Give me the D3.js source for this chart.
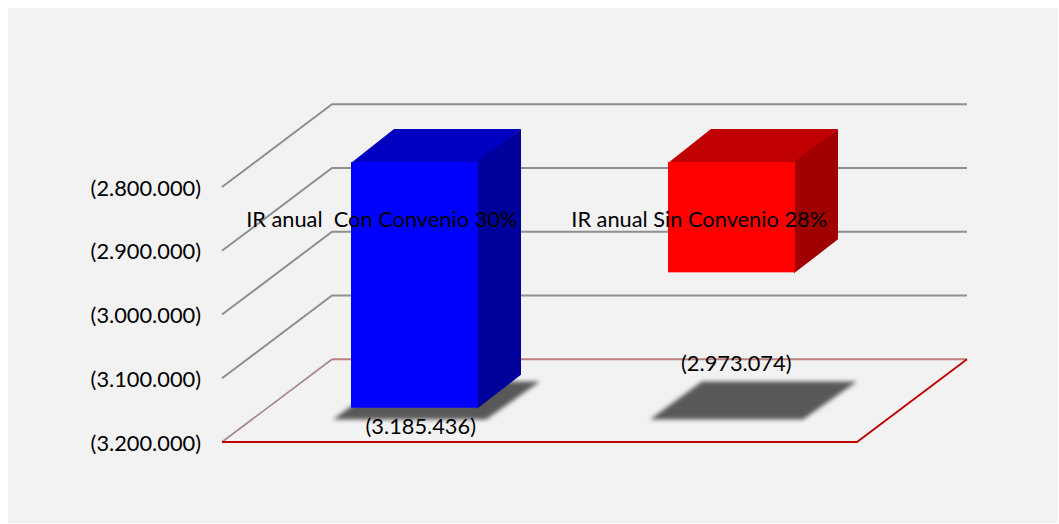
<!DOCTYPE html>
<html><head><meta charset="utf-8">
<script src="https://cdn.jsdelivr.net/npm/d3@7"></script>
<style>
html,body{margin:0;padding:0;background:#fff;overflow:hidden}
text{font-family:Lato,"Open Sans",sans-serif;fill:#000}
</style></head><body>
<svg id="c" width="1059" height="524"></svg>
<script>
const categories = ["IR anual  Con Convenio 30%", "IR anual Sin Convenio 28%"];
const values = [3185436, 2973074];
const valueLabels = ["(3.185.436)", "(2.973.074)"];
const tickValues = [2800000, 2900000, 3000000, 3100000, 3200000];
const tickLabels = ["(2.800.000)", "(2.900.000)", "(3.000.000)", "(3.100.000)", "(3.200.000)"];
const faceColors = [
  {front:"#0000ff", top:"#0000c0", side:"#00009b"},
  {front:"#ff0000", top:"#c00000", side:"#a00000"}
];

const W = 1059, H = 524;
const FS = 21.8;
const y = d3.scaleLinear().domain([2800000, 3200000]).range([187, 442]);
const x = d3.scaleBand().domain(categories).range([222, 857]).paddingInner(0.6).paddingOuter(0.3);
const depth = {dx:110, dy:-82.7};
const barNear = {dx:34, dy:-25};
const barDepth = {dx:43, dy:-33};

const svg = d3.select("#c");
const p = pts => "M" + pts.map(q => q.join(",")).join("L");

svg.append("rect").attr("x",8).attr("y",8).attr("width",W-9).attr("height",H-9).attr("fill","#f2f2f2");

svg.append("defs").append("filter").attr("id","blur").attr("x","-20%").attr("y","-30%").attr("width","140%").attr("height","160%")
  .append("feGaussianBlur").attr("stdDeviation",2);

const x0 = x.range()[0], x1 = x.range()[1];
const g = svg.append("g").attr("fill","none");
tickValues.slice(0,-1).forEach(v=>{
  g.append("path").attr("d",p([[x0,y(v)],[x0+depth.dx,y(v)+depth.dy],[x1+depth.dx,y(v)+depth.dy]]))
   .attr("stroke","#8f8f8f").attr("stroke-width",2);
});
const fy = y(3200000);
g.append("path").attr("d",p([[x0+depth.dx,fy+depth.dy],[x1+depth.dx,fy+depth.dy]])).attr("stroke","#bb7f7f").attr("stroke-width",2);
g.append("path").attr("d",p([[x0,fy],[x0+depth.dx,fy+depth.dy]])).attr("stroke","#a58a8a").attr("stroke-width",1.7);
g.append("path").attr("d",p([[x0,fy],[x1,fy],[x1+depth.dx,fy+depth.dy]])).attr("stroke","#c00000").attr("stroke-width",1.8);

categories.forEach((c,i)=>{
  const L = Math.floor(x(c)+barNear.dx), R = L + Math.round(x.bandwidth());
  const T = Math.round(y(2800000)+barNear.dy), B = y(values[i])+barNear.dy;
  const dx = barDepth.dx, dy = barDepth.dy;
  const sb = 419.5, st = 381.5;
  svg.append("path").attr("d",p([[L-18,sb],[R+8,sb],[R+62,st],[L+34,st]])+"Z")
     .attr("fill","#595959").attr("filter","url(#blur)");
  svg.append("path").attr("d",p([[L,T+1],[L+dx,T+dy],[R+dx,T+dy],[R,T+1]])+"Z").attr("fill",faceColors[i].top);
  svg.append("path").attr("d",p([[R-1,T],[R+dx,T+dy],[R+dx,B+dy],[R-1,B+1]])+"Z").attr("fill",faceColors[i].side);
  svg.append("rect").attr("x",L).attr("y",T).attr("width",R-L).attr("height",B-T).attr("fill",faceColors[i].front);
});

const axis = d3.axisLeft(y).tickValues(tickValues).tickSize(0).tickPadding(0)
  .tickFormat((d,i)=>tickLabels[i]);
const ag = svg.append("g").attr("transform","translate(201,0.5)").call(axis);
ag.select(".domain").remove();
ag.selectAll("text").attr("font-size",FS).attr("dy","0.35em").style("font-family",null);
ag.attr("font-family",null);

svg.selectAll(".cat").data(categories).join("text").attr("class","cat")
  .attr("x",d=>x(d)+x.bandwidth()/2+1).attr("y",226.5)
  .attr("text-anchor","middle").attr("font-size",FS).style("white-space","pre").text(d=>d);

svg.selectAll(".val").data(values).join("text").attr("class","val")
  .attr("x",(d,i)=>x(categories[i])+x.bandwidth()/2+[40,38][i])
  .attr("y",(d,i)=>y(d)+[1.5,74][i])
  .attr("text-anchor","middle").attr("font-size",FS).text((d,i)=>valueLabels[i]);
</script></body></html>
